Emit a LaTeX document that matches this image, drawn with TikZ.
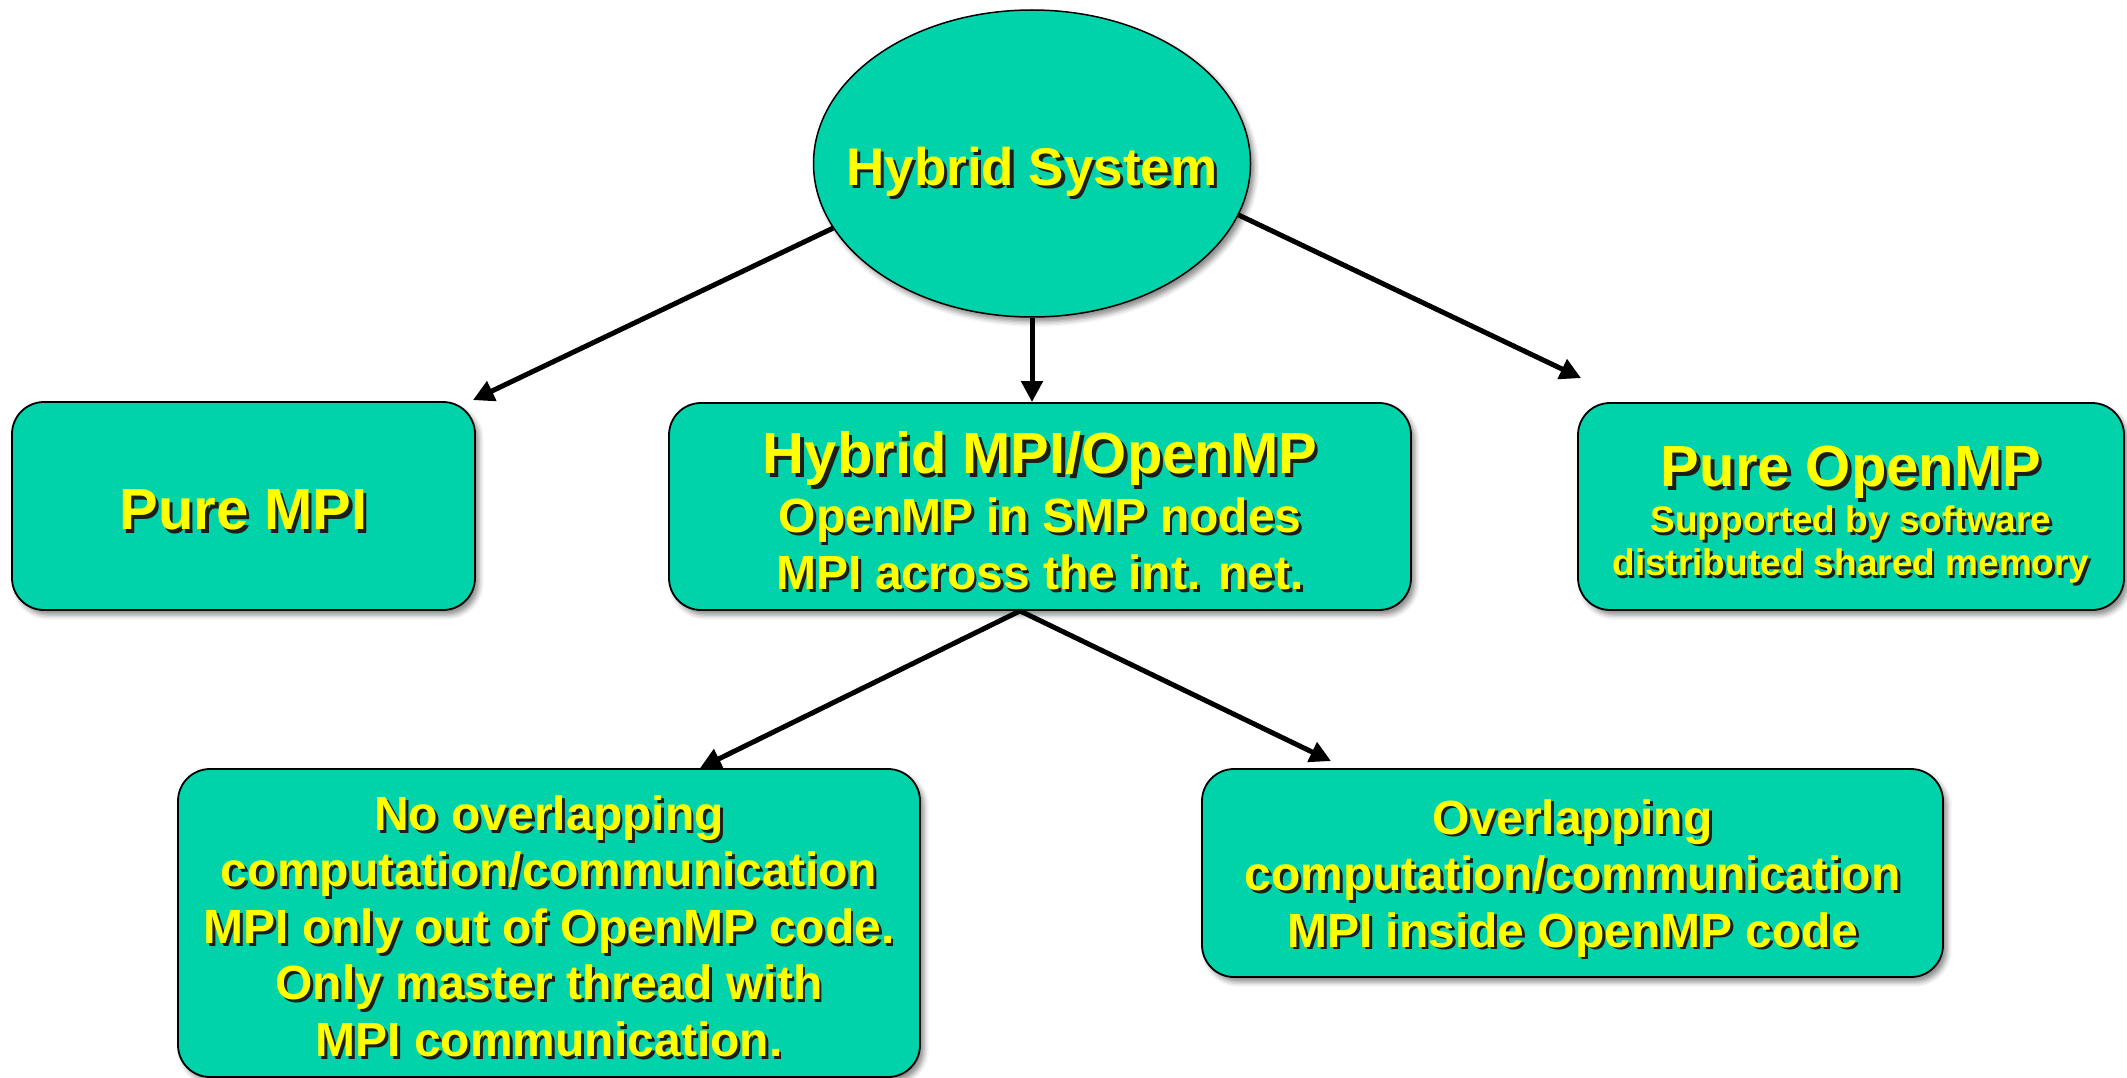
\documentclass[tikz,border=0pt]{standalone}
\usepackage{fontspec}
\setmainfont{Liberation Sans}
\usetikzlibrary{shapes.geometric,arrows.meta,shadows.blur,calc}

\definecolor{boxfill}{RGB}{0,211,170}
\definecolor{txtyellow}{RGB}{255,255,0}
\definecolor{txtshadow}{RGB}{30,30,25}

% yellow text with a dark drop shadow
\newcommand\yl[1]{\leavevmode\rlap{\kern0.06em\raisebox{-0.06em}{\textcolor{txtshadow}{#1}}}\textcolor{txtyellow}{#1}}
\newcommand\fs[2]{\fontsize{#1}{#2}\selectfont}
% invisible strut that pushes a text block down inside its box
\newcommand\lift[1]{\rule{0pt}{\dimexpr0.75em+#1\relax}}

\begin{document}
\begin{tikzpicture}[x=1pt,y=-1pt,
  card/.style={draw=black, line width=1.8pt, fill=boxfill, rounded corners=32pt,
    inner sep=0pt, align=center,
    blur shadow={shadow xshift=4pt, shadow yshift=-5pt, shadow blur radius=5pt, shadow opacity=45}},
  link/.style={line width=5pt, -{Triangle[length=21pt,width=21pt]}}]

\useasboundingbox (0,0) rectangle (2127,1078);

% root
\node[card, ellipse, sharp corners, line width=1.5pt, minimum width=437pt, minimum height=307pt]
  (hs) at (1032,163.5)
  {\raisebox{-22pt}[0pt][0pt]{\makebox[0pt]{\bfseries\fs{53}{60}\yl{Hybrid System}}}};

% first level
\node[card, minimum width=463pt, minimum height=208pt, font=\bfseries\fs{58}{66}]
  (pmpi) at (243.5,506) {\lift{8pt}\yl{Pure MPI}};

\node[card, minimum width=742pt, minimum height=207pt, font=\bfseries\fs{48}{57}]
  (mid) at (1040,506.5)
  {{\fs{58}{60}\lift{10pt}\yl{Hybrid MPI/OpenMP}}\\[2pt]
   \yl{OpenMP in SMP nodes}\\
   \yl{MPI across the int. net.}};

\node[card, minimum width=546pt, minimum height=207pt, font=\bfseries\fs{37}{43}]
  (pomp) at (1851,506.5)
  {{\fs{58}{60}\lift{16pt}\yl{Pure OpenMP}}\\[3pt]
   \yl{Supported by software}\\
   \yl{distributed shared memory}};

% second level
\node[card, minimum width=742pt, minimum height=308pt, font=\bfseries\fs{48}{56.5}]
  (nol) at (549,923)
  {\lift{8pt}\yl{No overlapping}\\
   \yl{computation/communication}\\
   \yl{MPI only out of OpenMP code.}\\
   \yl{Only master thread with}\\
   \yl{MPI communication.}};

\node[card, minimum width=741pt, minimum height=208pt, font=\bfseries\fs{48}{56.5}]
  (ovl) at (1572.5,873)
  {\lift{12pt}\yl{Overlapping}\\
   \yl{computation/communication}\\
   \yl{MPI inside OpenMP code}};

% connectors
\coordinate (split) at ($(mid.south)+(-20,0)$);

\draw[link] (hs.198) -- ($(pmpi.north east)+(-3,-1)$);
\draw[link] (hs.south) -- (hs.south |- mid.north);
\draw[link] (hs.346) -- ($(pomp.north west)+(4,-24)$);
\draw[link] (split) -- ($(nol.north)+(151,0)$);
\draw[link] (split) -- ($(ovl.north)+(-241.5,-7)$);
\end{tikzpicture}
\end{document}
